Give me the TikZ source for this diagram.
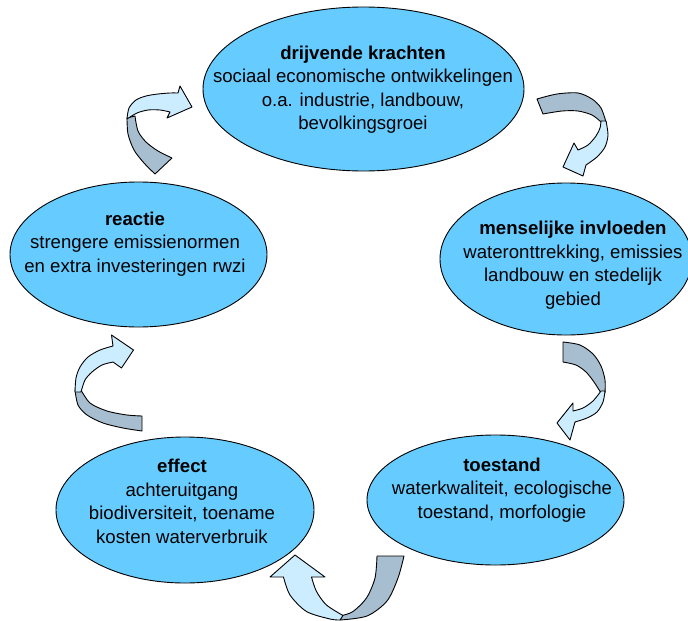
\documentclass[tikz,border=0pt]{standalone}
\usepackage{fontspec}
\setmainfont{Liberation Sans}
\usetikzlibrary{shapes.geometric}
\definecolor{ellfill}{HTML}{66CCFF}
\definecolor{arrlight}{HTML}{CCECFF}
\definecolor{arrdark}{HTML}{A6BECF}
\begin{document}
\begin{tikzpicture}[x=1pt,y=-1pt,
  ell/.style={ellipse, draw=black, line width=0.9pt, fill=ellfill, inner sep=0pt},
  lbl/.style={align=center, font=\fontsize{18.6}{23.5}\selectfont, inner sep=0pt},
  lightpart/.style={fill=arrlight, draw=black, line width=0.9pt, line join=round},
  darkpart/.style={fill=arrdark, draw=black, line width=0.9pt, line join=round}]
\useasboundingbox (0,0) rectangle (688,621);

% ellipses
\node[ell, minimum width=321pt, minimum height=164pt] (drijf) at (363.5,89) {};
\node[ell, minimum width=252pt, minimum height=152pt] (mens) at (566,259) {};
\node[ell, minimum width=257pt, minimum height=130pt] (toest) at (495.5,500) {};
\node[ell, minimum width=258pt, minimum height=146pt] (eff) at (185,510) {};
\node[ell, minimum width=257pt, minimum height=145pt] (reac) at (138.5,254.5) {};

% labels
\node[lbl] (tdrijf) at (363,89.5) {\textbf{drijvende krachten}\\sociaal economische ontwikkelingen\\o.a. industrie, landbouw,\\bevolkingsgroei};
\node[lbl] (tmens) at (573,265) {\textbf{menselijke invloeden}\\wateronttrekking, emissies\\landbouw en stedelijk\\gebied};
\node[lbl] (ttoest) at (502,490) {\textbf{toestand}\\waterkwaliteit, ecologische\\toestand, morfologie};
\node[lbl] (teff) at (182,501.5) {\textbf{effect}\\achteruitgang\\biodiversiteit, toename\\kosten waterverbruik};
\node[lbl] (treac) at (135,244) {\textbf{reactie}\\strengere emissienormen\\en extra investeringen rwzi};

% arrow A: reactie -> drijvende krachten
\filldraw[darkpart] plot[smooth] coordinates {(127,118) (128,134) (134,150) (144,163) (155,174)}
  -- plot[smooth] coordinates {(172,158) (158,151) (146,142) (138,131) (135,116)} -- cycle;
\filldraw[lightpart] plot[smooth] coordinates {(127,119) (129,108) (136,100) (146,96) (158,94) (170,93) (178,93)}
  -- (180,86) -- (192,107) -- (167,118)
  -- plot[smooth] coordinates {(170,112) (160,110) (148,110) (137,113) (127,119)} -- cycle;

% arrow B: drijvende krachten -> menselijke invloeden
\filldraw[darkpart] plot[smooth] coordinates {(537,99) (557,94) (578,93) (592,99) (601,108) (606,122)}
  -- plot[smooth] coordinates {(601,122) (592,115) (578,111) (562,111) (543,114)} -- cycle;
\filldraw[lightpart] plot[smooth] coordinates {(606,121) (608,135) (605,147) (597,157) (586,165)}
  -- (583,176) -- (563,167) -- (574,143)
  -- plot[smooth] coordinates {(578,150) (588,145) (596,136) (600,128) (601,121)} -- cycle;

% arrow C: menselijke invloeden -> toestand
\filldraw[darkpart] plot[smooth] coordinates {(563,342) (580,345) (593,354) (601,366) (605,380) (605,393)}
  -- plot[smooth] coordinates {(601,393) (594,382) (586,372) (576,365) (563,362)} -- cycle;
\filldraw[lightpart] plot[smooth] coordinates {(605,391) (603,402) (597,412) (587,418) (575,422)}
  -- (570,440) -- (557,423) -- (573,403)
  -- plot[smooth] coordinates {(573,411) (583,408) (593,401) (601,391)} -- cycle;

% arrow D: toestand -> effect
\filldraw[darkpart] plot[smooth] coordinates {(404,556) (398,578) (387,601) (367,616) (340,620)}
  -- plot[smooth] coordinates {(342,615.5) (353,611.5) (366.5,598) (375,578) (377,556)} -- cycle;
\filldraw[lightpart] plot[smooth] coordinates {(340,620) (330,619) (306.5,611.5) (290,595) (283.5,577)}
  -- (270,577) -- (295,555) -- (325,577)
  -- plot[smooth] coordinates {(311.5,577) (316.5,591.5) (326.5,605) (343,615.5)} -- cycle;

% arrow E: effect -> reactie
\filldraw[darkpart] plot[smooth] coordinates {(75,390) (78,405) (87,415) (103,423) (123,428) (142,431)}
  -- plot[smooth] coordinates {(142,416) (127,415) (107,411) (90,403) (81,390)} -- cycle;
\filldraw[lightpart] plot[smooth] coordinates {(75,392) (76,378) (80,367) (88,357) (100,350) (113,346)}
  -- (111.5,335) -- (133.5,350) -- (121.5,368)
  -- plot[smooth] coordinates {(113,362) (102,365) (92,372) (85,380) (81,392)} -- cycle;
\end{tikzpicture}
\end{document}
